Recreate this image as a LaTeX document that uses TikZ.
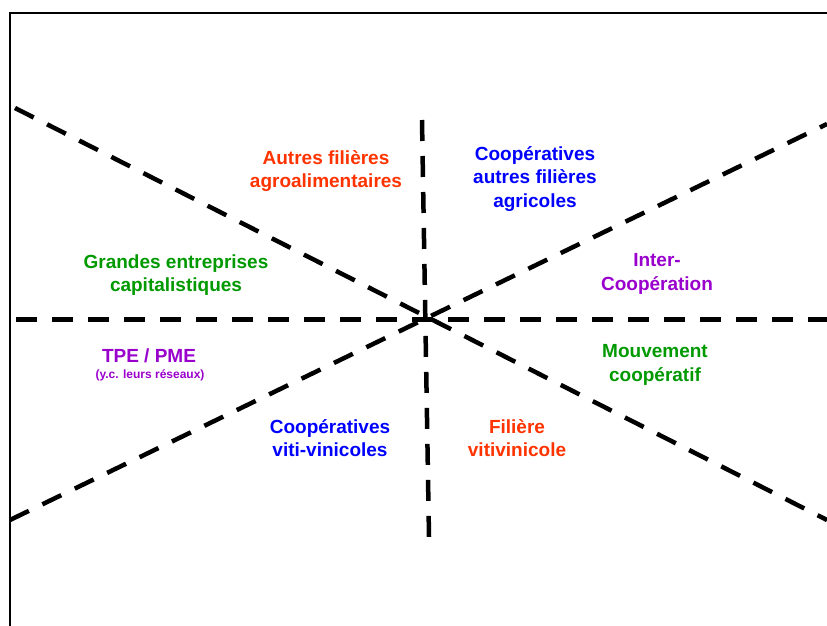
\documentclass[tikz,border=0pt]{standalone}
\usepackage{fontspec}
\setmainfont{Liberation Sans}
\definecolor{cOrange}{HTML}{FF3300}
\definecolor{cBlue}{HTML}{0000FF}
\definecolor{cGreen}{HTML}{009900}
\definecolor{cPurple}{HTML}{9900CC}
\begin{document}
\begin{tikzpicture}[x=1pt,y=-1pt,
  axisline/.style={line width=4.5pt, dash pattern=on 21pt off 15pt},
  frameline/.style={line width=2.4pt},
  lbl/.style={align=center, inner sep=0pt, font=\bfseries\fontsize{19}{23.5}\selectfont}]
\useasboundingbox (0,0) rectangle (827,626);
\clip (0,0) rectangle (827,626);
% frame
\coordinate (fbl) at (10,640);
\coordinate (ftl) at (10,13);
\coordinate (ftr) at (840,13);
\draw[frameline] (fbl) -- (ftl) -- (ftr);
% axes
\coordinate (hL) at (16,319.5);
\coordinate (hR) at (827,319.5);
\coordinate (vT) at (422,120);
\coordinate (vB) at (429,537);
\coordinate (d1a) at (15,108);
\coordinate (d1b) at (827,520);
\coordinate (d2a) at (10,520);
\coordinate (d2b) at (827,124);
\draw[axisline] (hL) -- (hR);
\draw[axisline] (vT) -- (vB);
\draw[axisline] (d1a) -- (d1b);
\draw[axisline] (d2a) -- (d2b);
% labels
\node[lbl, text=cOrange] (autres) at (326,171) {Autres filières\\agroalimentaires};
\node[lbl, text=cBlue] (coopaut) at (535,179) {Coopératives\\autres filières\\agricoles};
\node[lbl, text=cGreen] (grandes) at (176,275) {Grandes entreprises\\capitalistiques};
\node[lbl, text=cPurple] (inter) at (657,274) {Inter-\\Coopération};
\node[lbl, text=cPurple] (tpe) at (149,356) {TPE / PME};
\node[inner sep=0pt, text=cPurple, font=\bfseries\fontsize{12}{14}\selectfont] (yc) at (150,375) {(y.c. leurs réseaux)};
\node[lbl, text=cGreen] (mouv) at (655,365) {Mouvement\\coopératif};
\node[lbl, text=cBlue] (coopviti) at (330,438) {Coopératives\\viti-vinicoles};
\node[lbl, text=cOrange] (filiere) at (517,438) {Filière\\vitivinicole};
\end{tikzpicture}
\end{document}
